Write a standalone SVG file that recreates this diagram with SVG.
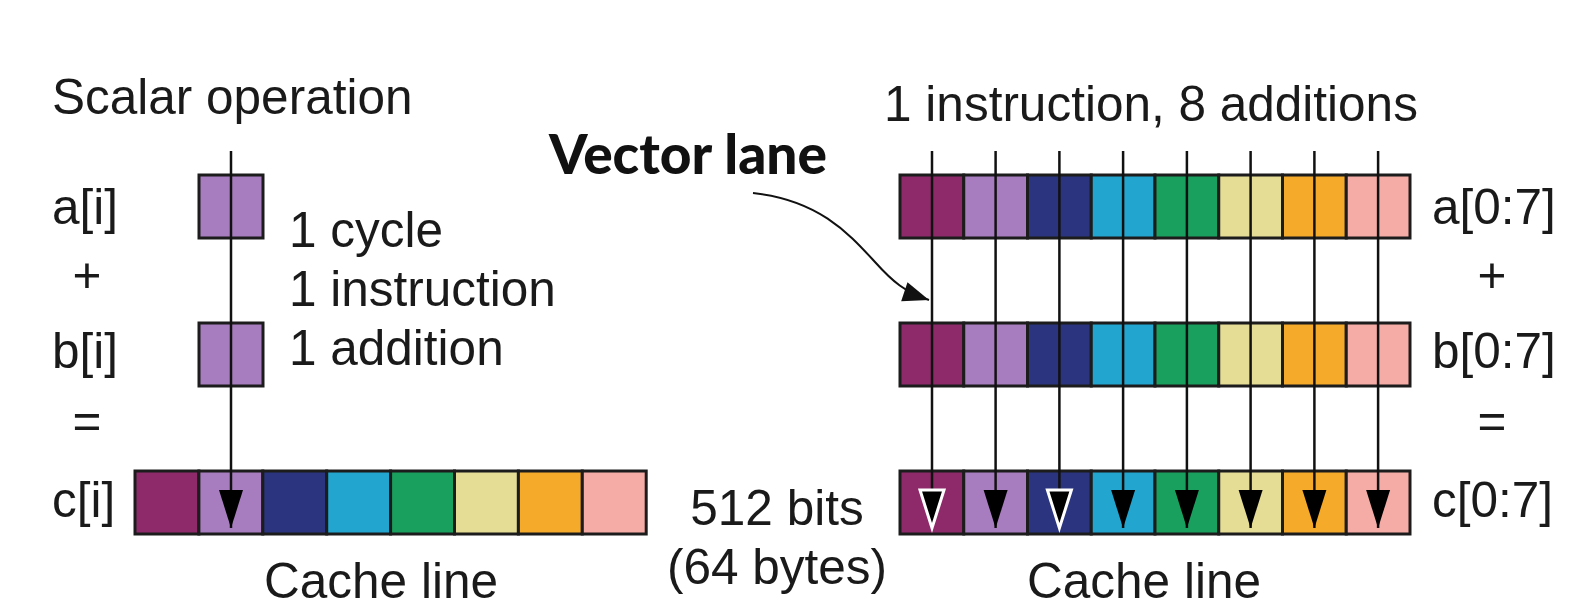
<svg xmlns="http://www.w3.org/2000/svg" width="1583" height="612" viewBox="0 0 1583 612">
<style>
text{font-family:"Liberation Sans",Arial,sans-serif;font-size:49.5px;fill:#1a1a1a}
.mid{text-anchor:middle}
.bold{font-family:Lato,"Open Sans",sans-serif;font-weight:900;font-size:55px;fill:#111}
.cell{stroke:#1c1c1c;stroke-width:3}
.c1{fill:#8E2A6A}.c2{fill:#A87DBF}.c3{fill:#2A347F}.c4{fill:#22A5CF}
.c5{fill:#1AA05E}.c6{fill:#E5DD96}.c7{fill:#F5AA2A}.c8{fill:#F5ACA6}
.ln{stroke:#111;stroke-width:2.5;fill:none}
</style>
<defs>
<marker id="ah" markerUnits="userSpaceOnUse" viewBox="0 0 38 24" markerWidth="38" markerHeight="24" refX="38" refY="12" orient="auto" overflow="visible">
<path d="M0,0 L38,12 L0,24 z" fill="#000"/>
</marker>
<marker id="ahw" markerUnits="userSpaceOnUse" viewBox="0 0 38 24" markerWidth="38" markerHeight="24" refX="38" refY="12" orient="auto" overflow="visible">
<path d="M0,0 L38,12 L0,24 z" fill="#000" stroke="#fff" stroke-width="3"/>
</marker>
<marker id="ahs" markerUnits="userSpaceOnUse" viewBox="0 0 26 20" markerWidth="26" markerHeight="20" refX="26" refY="10" orient="auto" overflow="visible">
<path d="M0,0 L26,10 L0,20 z" fill="#111"/>
</marker>
</defs>
<rect x="0" y="0" width="1583" height="612" fill="#fff"/>

<g id="scalar-title"><text x="52" y="114">Scalar operation</text></g>
<g id="scalar-labels">
<text x="52" y="224">a[i]</text>
<text class="mid" x="87" y="292">+</text>
<text x="52" y="368">b[i]</text>
<text class="mid" x="87" y="438">=</text>
<text x="52" y="517">c[i]</text>
</g>
<g id="scalar-a"><rect class="cell c2" x="199" y="175" width="64" height="63"/></g>
<g id="scalar-b"><rect class="cell c2" x="199" y="323" width="64" height="63"/></g>
<g id="scalar-notes">
<text x="289" y="247">1 cycle</text>
<text x="289" y="306">1 instruction</text>
<text x="289" y="365">1 addition</text>
</g>
<g id="cache-left">
<rect class="cell c1" x="135" y="471" width="63.9" height="63"/>
<rect class="cell c2" x="198.9" y="471" width="63.9" height="63"/>
<rect class="cell c3" x="262.8" y="471" width="63.9" height="63"/>
<rect class="cell c4" x="326.7" y="471" width="63.9" height="63"/>
<rect class="cell c5" x="390.6" y="471" width="63.9" height="63"/>
<rect class="cell c6" x="454.5" y="471" width="63.9" height="63"/>
<rect class="cell c7" x="518.4" y="471" width="63.9" height="63"/>
<rect class="cell c8" x="582.3" y="471" width="63.9" height="63"/>
<text class="mid" x="381" y="598">Cache line</text>
</g>
<g id="size-label">
<text class="mid" x="777" y="525">512 bits</text>
<text class="mid" x="777" y="584">(64 bytes)</text>
</g>

<g id="vector-title"><text class="mid" x="1151" y="121">1 instruction, 8 additions</text></g>
<g id="vector-lane-label"><text class="bold" x="549" y="174">Vector lane</text></g>
<g id="vector-a">
<rect class="cell c1" x="900" y="175" width="63.75" height="63"/>
<rect class="cell c2" x="963.75" y="175" width="63.75" height="63"/>
<rect class="cell c3" x="1027.5" y="175" width="63.75" height="63"/>
<rect class="cell c4" x="1091.25" y="175" width="63.75" height="63"/>
<rect class="cell c5" x="1155" y="175" width="63.75" height="63"/>
<rect class="cell c6" x="1218.75" y="175" width="63.75" height="63"/>
<rect class="cell c7" x="1282.5" y="175" width="63.75" height="63"/>
<rect class="cell c8" x="1346.25" y="175" width="63.75" height="63"/>
</g>
<g id="vector-b">
<rect class="cell c1" x="900" y="323" width="63.75" height="63"/>
<rect class="cell c2" x="963.75" y="323" width="63.75" height="63"/>
<rect class="cell c3" x="1027.5" y="323" width="63.75" height="63"/>
<rect class="cell c4" x="1091.25" y="323" width="63.75" height="63"/>
<rect class="cell c5" x="1155" y="323" width="63.75" height="63"/>
<rect class="cell c6" x="1218.75" y="323" width="63.75" height="63"/>
<rect class="cell c7" x="1282.5" y="323" width="63.75" height="63"/>
<rect class="cell c8" x="1346.25" y="323" width="63.75" height="63"/>
</g>
<g id="vector-c">
<rect class="cell c1" x="900" y="471" width="63.75" height="63"/>
<rect class="cell c2" x="963.75" y="471" width="63.75" height="63"/>
<rect class="cell c3" x="1027.5" y="471" width="63.75" height="63"/>
<rect class="cell c4" x="1091.25" y="471" width="63.75" height="63"/>
<rect class="cell c5" x="1155" y="471" width="63.75" height="63"/>
<rect class="cell c6" x="1218.75" y="471" width="63.75" height="63"/>
<rect class="cell c7" x="1282.5" y="471" width="63.75" height="63"/>
<rect class="cell c8" x="1346.25" y="471" width="63.75" height="63"/>
<text class="mid" x="1144" y="598">Cache line</text>
</g>
<g id="vector-labels">
<text x="1432" y="224">a[0:7]</text>
<text class="mid" x="1492" y="292">+</text>
<text x="1432" y="368">b[0:7]</text>
<text class="mid" x="1492" y="438">=</text>
<text x="1432" y="517">c[0:7]</text>
</g>

<g id="connectors">
<line class="ln" x1="231" y1="151" x2="231" y2="528" marker-end="url(#ah)"/>
<line class="ln" x1="932" y1="151" x2="932" y2="528" marker-end="url(#ahw)"/>
<line class="ln" x1="995.6" y1="151" x2="995.6" y2="528" marker-end="url(#ah)"/>
<line class="ln" x1="1059.4" y1="151" x2="1059.4" y2="528" marker-end="url(#ahw)"/>
<line class="ln" x1="1123.1" y1="151" x2="1123.1" y2="528" marker-end="url(#ah)"/>
<line class="ln" x1="1186.9" y1="151" x2="1186.9" y2="528" marker-end="url(#ah)"/>
<line class="ln" x1="1250.6" y1="151" x2="1250.6" y2="528" marker-end="url(#ah)"/>
<line class="ln" x1="1314.4" y1="151" x2="1314.4" y2="528" marker-end="url(#ah)"/>
<line class="ln" x1="1378.1" y1="151" x2="1378.1" y2="528" marker-end="url(#ah)"/>
<path class="ln" style="stroke-width:2" d="M753,193 C820,200 850,235 875,262 C893,282 905,292 929,300" marker-end="url(#ahs)"/>
</g>
</svg>
